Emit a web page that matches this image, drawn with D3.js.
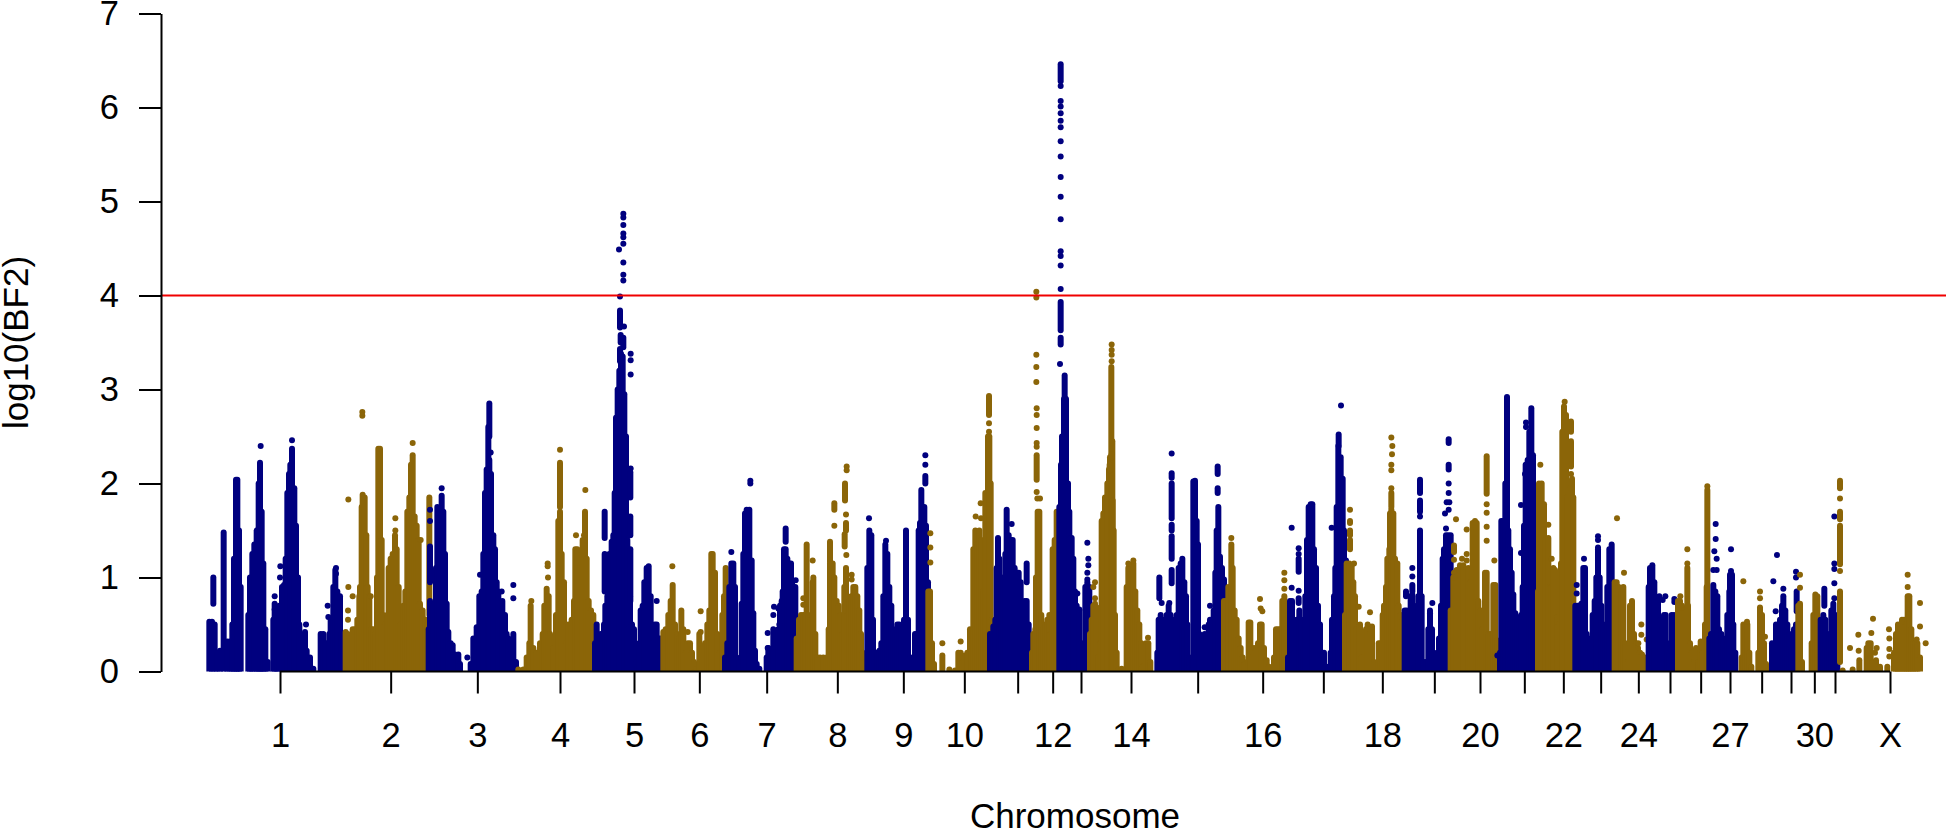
<!DOCTYPE html>
<html><head><meta charset="utf-8">
<script src="https://cdn.jsdelivr.net/npm/d3@7"></script>
<style>html,body{margin:0;background:#fff}svg{display:block}text{font-family:"Liberation Sans",Arial,sans-serif;fill:#000}</style>
</head><body><svg id="c" width="1946" height="833"></svg>
<script>
// Genome position unit: arbitrary cumulative position; each row is [position, top, optional bottom].
const at=(o,rows)=>rows.map(r=>[r[0]+o,...r.slice(1)]);
const genomeSpan=5838;
const yMax=7, threshold=4;
const tickPositions=[840,1172,1432,1680,1902,2098,2300,2512,2710,2893,3053,3158,3243,3393,3593,3788,3970,4147,4303,4440,4573,4690,4802,4915,5010,5102,5190,5285,5373,5443,5505,5670];
const tickLabels=["1","2","3","4","5","6","7","8","9","10","","12","","14","","16","","18","","20","","22","","24","","","27","","","30","","X"];
const chromosomeColors=["#00007f","#8b6508"];

const chr1=at(600,[[28,.53],[36,.53],[44,.5],[40,1,.72],[52,.2],[60,.22],[71,1.48],[82,.32],[90,.32],[97,.5],[102,1.2],[108,2.04],[112,2.04],[117,1.5],[122,.9],[145,.6],[150,1],[157,1.25],[163,1.35],[170,1.5],[176,2],[180,2.22],[185,1.7],[190,1.15],[196,.45],[203,.1],[220,.55],[224,.72],[232,.45],[238,.7],[246,.9],[252,.92],[257,1.2],[262,1.9],[267,2.1],[271,2.2],[276,2.37],[283,1.95],[288,1.55],[294,1],[298,.5],[305,.35],[315,.42],[320,.22],[330,.15],[340,.03],[362,.4],[370,.4],[376,.3],[383,.3],[388,.4],[392,.55],[400,.9],[406,1.08],[412,.85],[420,.8],[424,.4]]);
const chr1Dots=at(600,[[182,2.4],[224,.8],[224,.66],[241,1.12],[240,1],[276,2.46],[383,.7],[385,.58],[408,1.1],[408,1.04],[318,.5]]);
const chr2=at(600,[[437,.42],[443,.4],[450,.35],[458,.45],[465,.45],[472,.55],[478,.8],[480,.9],[485,1.75],[488,1.88],[494,1.85],[499,1.45],[503,.9],[508,.8],[514,.45],[520,.45],[526,.4],[531,1],[535,2.37],[540,2.37],[545,1.4],[549,.6],[555,.5],[562,.6],[566,1.1],[572,1.2],[578,1.25],[585,1.45],[590,1.3],[596,.9],[602,.5],[610,.7],[616,.85],[622,1.7],[628,1.85],[633,2.2],[638,2.3],[644,1.65],[650,1.55],[656,1.4],[660,.72],[668,.65],[676,.55],[682,.5],[688,1.85,.6]]);
const chr2Dots=at(600,[[487,2.76],[487,2.72],[445,1.83],[445,.9],[458,.8],[444,.65],[444,.55],[586,1.63],[586,1.5],[638,2.43],[662,1.4],[512,.8]]);
const chr3=at(600,[[686,.45],[690,.75],[690,1.33,.95],[700,.7],[708,1.1],[712,1.75],[718,1.72],[725,1.87],[730,1.7],[735,1.25],[740,.72],[745,.42],[752,.3],[758,.28],[765,.18],[775,.18],[780,.08],[812,.08],[820,.35],[830,.47],[838,.8],[845,.85],[850,1.25],[855,1.9],[860,2.15],[865,2.6],[868,2.85,2.5],[868,2.25],[873,2.1],[880,1.45],[885,1.3],[890,.95],[895,.85],[900,.6],[907,.75],[915,.6],[920,.4],[925,.35],[932,.2],[940,.4],[948,.1]]);
const chr3Dots=at(600,[[690,1.72],[690,1.6],[725,1.95],[802,.15],[840,1.03],[872,2.33],[940,.92],[940,.78],[905,.85]]);
const chr4=at(1470,[[85,.02],[100,.02],[110,.15],[118,.3],[122,.7],[130,.25],[140,.2],[150,.3],[158,.4],[163,.7],[170,.88],[176,.8],[180,.4],[190,.25],[198,.6],[205,1.6],[210,1.7],[210,2.22,1.75],[215,1.25],[222,.95],[228,.3],[235,.5],[245,.55],[252,.75],[256,1.3],[262,1.3],[270,1.1],[278,1.4],[285,1.7],[290,1.2],[296,.75],[303,.65],[310,.6],[316,.3]]);
const chr4Dots=at(1470,[[173,1.15],[173,1.12],[174,1],[210,2.36],[124,.75],[286,1.93],[258,1.45],[282,1.45]]);
const chr5=at(1470,[[315,.3],[320,.5],[332,.4],[342,.5],[346,.7],[344,1.7,1.42],[344,1.25,.85],[352,.8],[358,1.25],[365,1.38],[370,1.45],[374,1.9],[378,2.7],[383,3],[388,3.2],[393,3.38],[398,3.35],[403,2.95],[408,2.5],[412,1.4],[416,.45],[420,.8],[421,1.3,.75],[421,1.65,1.45],[421,2.12,1.85],[426,.5],[432,.45],[438,.1],[442,.05],[448,.3],[452,.65],[458,.7],[463,.95],[470,1.1],[476,1.12],[482,.8],[488,.3],[494,.5],[500,.5],[506,.35],[512,.35],[518,.15],[524,.1]]);
const chr5Upper=at(1680,[[180,3.84,3.66],[182,3.58,3.5],[190,3.55,3.45],[180,3.43,3.3]]);
const chr5Dots=at(1680,[[190,4.87],[190,4.83],[190,4.75],[190,4.66],[190,4.62],[190,4.55],[177,4.49],[190,4.35],[190,4.22],[190,4.16],[180,3.99],[192,3.67],[212,3.38],[212,3.31],[212,3.16],[212,2.16],[290,.75]]);
const chr6=at(1470,[[520,.42],[527,.45],[535,.6],[542,.75],[548,.92],[555,.5],[562,.4],[568,.35],[574,.65],[580,.45],[588,.2],[593,.3],[600,.3],[606,.2],[612,.1],[618,.02],[628,.4],[638,.25],[645,.3],[652,.5],[658,.65],[664,1.25],[668,1.25],[675,1.05],[682,.4],[690,.2],[697,.6],[702,.8],[707,1.1],[712,.8]]);
const chr6Dots=at(1470,[[547,1.12],[593,.42],[632,.64],[632,.42]]);
const chr7=[...at(1470,[[705,.15],[712,.3],[718,.9],[724,1.15],[730,1.15],[735,.9],[740,.15],[748,.1],[755,.72],[760,1.25],[765,1.68],[770,1.72],[778,1.72],[785,1.18],[790,.62],[795,.22],[800,.08],[808,.03],[830,.15],[835,.25],[843,.1],[850,.45],[858,.38],[865,.45]]),...at(2340,[[0,.7],[5,.75],[8,.85],[12,1.3],[17,1.3],[17,1.52,1.38],[22,1.2],[28,1.15],[33,1.15],[36,.95],[40,.9],[46,.9],[50,.5]])];
const chr7Dots=at(1470,[[724,1.27],[781,2.03],[781,2],[833,.41],[833,.25],[852,.69],[850,.6],[865,.67],[868,.5]]).concat(at(2340,[[47,.97]]));
const chr8=at(2340,[[50,.35],[57,.55],[63,.6],[70,.6],[76,.6],[80,1.35],[85,.6],[92,.55],[98,.95],[100,1],[106,.4],[112,.15],[120,.15],[130,.15],[140,.15],[146,.45],[150,1.15],[150,1.38,1.17],[152,1.15],[158,1.15],[163,1],[170,.75],[176,.7],[182,.6],[188,.4],[193,.9],[198,1.1],[203,.6],[208,.75],[214,.8],[220,.9],[226,.9],[232,.8],[238,.65],[243,.4],[248,.2],[254,.1],[163,1.79,1.72],[195,2,1.82],[198,1.58,1.5],[194,1.46,1.33]]);
const chr8Dots=at(2340,[[70,.78],[70,.71],[98,1.18],[163,1.55],[200,2.18],[200,2.14],[198,1.67],[199,1.24],[215,1.03],[215,.98]]);
const chr9=at(2340,[[262,1.1],[268,1.5],[274,1.45],[279,.55],[285,.1],[292,.2],[298,.22],[304,.3],[310,.8],[316,1.35],[322,1.25],[328,.9],[334,.7],[340,.45],[346,.4],[352,.5],[358,.5],[364,.45],[372,.55],[378,1.5],[384,.55],[392,.15],[398,.03],[405,.4],[410,.4],[416,1.5],[420,1.58],[426,1.55],[432,1.55],[438,1.55],[444,.95],[448,.35],[424,1.93,1.6],[433,1.75,1.55],[436,2.08,2]]);
const chr9Dots=at(2340,[[267,1.63],[318,1.39],[436,2.3],[436,2.2]]);
const chr10=at(2340,[[445,.85],[450,.85],[456,.3],[462,.08],[487,.17],[508,.02],[525,.01],[535,.2],[542,.2],[548,.1],[555,.17],[562,.2],[570,.45],[574,.22],[580,1.3],[586,1.5],[592,1.35],[598,1.5],[604,1.4],[610,.85],[616,1.9],[620,1.65],[624,2.5],[628,2.5],[632,2],[636,.55],[627,2.93,2.73]]);
const chr10Dots=at(2340,[[451,1.47],[451,1.32],[451,1.16],[487,.3],[542,.32],[602,1.79],[587,1.65],[603,1.63],[627,2.64],[627,2.55]]);
const chr11=at(2340,[[630,.4],[640,.48],[646,.55],[650,1.1],[654,1.42],[658,1.2],[664,.9],[670,1],[676,1.25],[680,1.72],[686,1.45],[692,1.4],[698,1.4],[704,1.1],[710,1.05],[716,1.05],[722,.95],[728,.55],[734,.75],[740,.75],[746,.5],[752,.3],[740,1.15,.95]]);
const chr11Dots=at(2340,[[695,1.57]]);
const chr12=at(2340,[[756,.2],[760,.4],[766,.45],[768,1],[773,1.7],[778,1.7],[784,.6],[790,.45],[796,.5],[802,.55],[808,.6],[812,.4],[818,1.3],[824,1.4],[830,1.7],[770,2.3,2.04]]);
const chr12Dots=at(2340,[[770,2.8],[770,2.73],[770,2.59],[770,2.43],[770,2.39],[770,1.91],[772,1.84],[780,1.84]]).concat(at(2880,[[229,4.04],[229,3.98],[229,3.37],[229,3.24],[229,3.08]]));
const chr13=[...at(2340,[[838,1.75],[843,2.2],[846,2.5],[852,2.9],[858,2.9],[864,2],[868,1.7]]),...at(3210,[[0,1.42],[5,1.42],[10,1.2],[15,.85],[20,.7],[28,.65],[35,.3],[40,.1],[46,.9],[52,.95],[58,.9],[62,.1]]),...at(2880,[[314,3.15,2.9],[302,6.46,6.28],[302,3.93,3.63],[302,3.55,3.48]])];
const chr13Dots=[...at(2880,[[302,6.23],[302,6.07],[302,6.01],[302,5.94],[302,5.86],[302,5.79],[302,5.64],[302,5.48],[302,5.26],[302,5.05],[302,4.81],[302,4.47],[302,4.42],[302,4.32],[302,4.07],[300,3.27]]),...at(3210,[[52,1.37],[55,1.2],[55,1.13],[52,1.05],[52,.98],[22,.83],[28,.66]])];
const chr14=at(3210,[[60,.4],[65,.55],[70,.7],[75,.72],[80,.68],[85,.15],[92,.3],[95,1.6],[100,1.68],[105,1.85],[112,2],[117,2.15],[120,2.28],[124,3.24],[127,2.45],[128,1.82],[131,1.5],[135,.6],[140,.2],[146,.02],[155,.03],[125,2.31,2.28],[119,2.2,2.14],[170,.9],[175,1.1],[183,1.1],[190,1.15],[196,.85],[202,.65],[208,.5],[214,.3],[218,.05],[228,.3],[235,.3],[241,.1]]);
const chr14Dots=at(3210,[[125,3.48],[125,3.42],[125,3.37],[125,3.3],[75,.95],[70,.9],[75,.78],[175,1.15],[190,1.18],[234,.36]]);
const chr15=at(3210,[[262,.2],[266,.55],[272,.6],[278,.55],[284,.5],[290,.6],[296,.7],[302,.6],[308,.5],[314,.55],[320,.6],[326,1.1],[332,1.15],[337,1.2],[343,.95],[348,.8],[352,.5],[358,.15],[362,.05],[305,2.11,2.06],[305,2,1.63],[305,1.56,1.5],[305,1.44,1.2],[305,1.08,.94],[268,1,.78],[367,.15],[370,2.02],[375,2.03],[380,1.6],[384,1.35],[388,.4],[392,.15],[398,.35],[404,.4],[410,.35],[416,.5],[420,.55],[426,.55],[431,.65],[436,1.05],[440,1.5],[445,1.75],[450,1.22],[456,1.1],[462,.98],[466,.7],[443,2.18,2.1],[443,1.95,1.9]]);
const chr15Dots=at(3210,[[305,2.32],[275,.73],[298,.73],[404,.47],[420,.7]]);
const chr16=at(3210,[[462,.75],[468,.75],[475,.9],[484,1.35],[488,1.1],[494,.65],[500,.55],[506,.35],[512,.25],[518,.15],[524,.08],[531,.1],[536,.52],[541,.52],[546,.15],[552,.25],[558,.22],[564,.3],[570,.5],[575,.5],[582,.25],[590,.12],[597,.05],[612,.15],[618,.45],[624,.45],[630,.45],[637,.75],[643,.8],[648,.15],[652,.05]]);
const chr16Dots=at(3210,[[484,1.42],[570,.77],[572,.67],[577,.64],[643,1.05],[643,.97],[643,.88]]);
const chr17=at(3210,[[654,.15],[660,.75],[666,.75],[672,.2],[680,.55],[688,.65],[694,.55],[700,.25],[706,.8],[711,1.4],[716,1.75],[722,1.78],[727,1.78],[732,1.3],[738,1.1],[744,.7],[750,.5],[756,.15],[762,.2],[768,.05],[775,.05],[782,.2],[786,.55],[792,.8],[796,1.1],[800,1.75],[805,2.4],[812,2.28],[818,2.05],[822,1.5],[828,1.18],[835,.8],[806,2.52,2.4],[686,1.2,1.06],[686,.78,.73]]);
const chr17Dots=at(3210,[[665,1.53],[665,.89],[686,1.31],[686,1.25],[686,.86],[785,1.53],[813,2.83]]);
const chr18=[...at(3210,[[825,.6],[830,1.15],[838,1.15],[845,1.12],[850,.95],[855,.8],[860,.45],[868,.48],[840,1.6,1.58],[840,1.5,1.45],[840,1.4,1.3]]),...at(4080,[[0,.5],[5,.15],[18,.45],[23,.5],[30,.4],[36,.48],[42,.1],[56,.3],[62,.3],[68,.6],[72,.7],[78,.9],[82,1.2],[88,1.3],[90,1.68],[94,1.72],[100,1.68],[105,1.2],[112,1.15],[116,.7],[122,.6],[128,.55],[94,1.9,1.75]])];
const chr18Dots=[...at(3210,[[840,1.72],[852,1.15],[866,.69]]),...at(4080,[[30,.63],[94,2.49],[97,2.4],[96,2.31],[94,2.2],[94,2.14],[94,1.95]])];
const chr19=at(4080,[[134,.65],[140,.65],[146,.55],[152,.8],[157,.82],[162,.7],[168,.4],[170,.5],[175,.8],[180,1.5],[185,.8],[190,.1],[197,.1],[205,.45],[210,.65],[216,.45],[222,.2],[230,.18],[237,.35],[243,.7],[248,1.2],[252,1.3],[258,1.45],[265,1.45],[272,1.45],[277,.9],[180,2.04,1.9],[180,1.82,1.7],[157,.92,.85],[138,.85,.8],[266,2.47,2.43],[266,2.2,2.15]]);
const chr19Dots=at(4080,[[157,1.1],[157,1.01],[210,.62],[217,.73],[266,2],[266,1.9],[260,1.8],[268,1.8],[255,1.68],[266,1.72],[258,1.52],[180,1.65]]);
const chr20=at(4080,[[272,.65],[280,1],[290,1.08],[300,1.13],[310,1.13],[318,1.08],[325,1.1],[332,.95],[338,1.58],[345,1.6],[350,1.58],[355,.75],[362,.65],[368,.45],[375,1.05],[380,1.05],[385,.4],[392,.4],[400,.92],[406,.92],[412,.33],[416,.05],[282,1.34,1.27],[380,2.29,1.89]]);
const chr20Dots=at(4080,[[288,1.62],[320,1.51],[282,1.19],[282,1.05],[282,1],[306,1.2],[320,1.25],[320,1.18],[380,1.78],[380,1.69],[380,1.54],[380,1.39],[403,1.18]]);
const chr21=at(4080,[[420,.2],[424,1.6],[430,1.6],[436,2],[441,2.92],[445,1.5],[450,1.3],[455,1.05],[460,.82],[466,.62],[472,.58],[478,.55],[484,.6],[488,.9],[492,1.55],[497,2.2],[503,2.25],[508,2.55],[514,2.8],[519,2.3],[524,1.3],[530,1.25]]);
const chr21Dots=at(4080,[[412,.17],[483,1.77],[483,1.26],[498,2.65],[498,2.6],[495,2.1]]);
const chr22=at(4080,[[534,.85],[537,2],[545,2],[552,1.78],[556,1.4],[565,1.42],[570,.9],[575,.9],[580,1.1],[585,1.08],[592,.58],[597,.5],[603,1.15],[607,2.55],[612,2.82],[618,2.73],[622,1.85],[630,1.95],[636,2.05],[640,1.85],[643,.1],[633,2.66,2.55],[633,2.45,2.18]]);
const chr22Dots=at(4080,[[541,2.2],[614,2.87],[565,1.56],[575,1.2],[633,2.1]]);
const chr23=at(4080,[[646,.7],[652,.7],[658,.7],[664,.72],[670,1.1],[675,1.1],[680,.4],[686,.2],[692,.35],[698,.6],[704,.75],[709,1],[714,1.3],[719,1],[724,.7],[730,.5],[736,.4],[742,.9],[748,1.3],[755,1.35],[760,.8],[766,.1]]);
const chr23Dots=at(4080,[[650,.92],[650,.83],[672,1.2],[714,1.44],[714,1.4],[714,1.32],[714,1.27],[714,1.18]]);
const chr24=at(4080,[[764,.95],[770,.95],[776,.9],[784,.85],[790,.9],[796,.3],[804,.1],[810,.7],[816,.75],[822,.4],[828,.3],[834,.25],[840,.2],[846,.18],[855,.15],[862,.15]]);
const chr24Dots=at(4080,[[771,1.63],[792,1.05],[844,.5],[844,.39],[860,.34],[835,.3]]);
const chr25=at(4950,[[-4,.9],[0,1.1],[7,1.13],[13,.95],[18,.78],[24,.75],[30,.55],[36,.45],[42,.6],[47,.6],[52,.3],[58,.2],[65,.6],[72,.6],[78,.5]]);
const chr25Dots=at(4950,[[28,.8],[46,.8],[73,.77],[73,.74],[38,.76]]);
const chr26=at(4950,[[84,.75],[90,.75],[96,.7],[102,.65],[108,.65],[112,1.1,.68],[114,.7],[120,.3],[126,.2],[132,.1],[138,.25],[145,.1],[152,.32],[158,.2],[165,.5],[170,.9],[172,1.93],[176,.4]]);
const chr26Dots=at(4950,[[91,.8],[112,1.3],[112,1.15],[172,1.97]]);
const chr27=at(4950,[[178,.35],[183,.4],[190,.92],[196,.85],[202,.8],[207,.45],[214,.4],[220,.35],[226,.25],[232,.6],[238,.85],[240,1.03],[246,1.03],[250,.5],[256,.2]]);
const chr27Dots=at(4950,[[197,1.57],[197,1.41],[193,1.28],[200,1.2],[190,1.08],[200,1.08],[243,1.3],[243,1.07]]);
const chr28=at(4950,[[275,.15],[280,.5],[286,.48],[292,.5],[298,.2],[304,.05],[325,.2],[330,.68],[336,.6],[342,.3],[348,.08]]);
const chr28Dots=at(4950,[[280,.96],[330,.85],[330,.78],[345,.37],[291,.53]]);
const chr29=at(4950,[[366,.3],[372,.25],[378,.5],[384,.4],[390,.55],[396,.7],[400,.8],[406,.65],[412,.5],[418,.4],[424,.25],[432,.45],[438,.5],[440,.85,.64]]);
const chr29Dots=at(4950,[[370,.96],[381,1.24],[377,.64],[400,.88],[438,1.06],[438,1]]);
const chr30=at(4950,[[445,.7],[450,.72],[456,.1],[485,.3],[490,.6],[496,.82],[502,.8],[507,.15]]);
const chr30Dots=at(4950,[[450,1.03],[450,.89]]);
const chr31=at(4950,[[512,.55],[520,.6],[526,.55],[532,.25],[538,.4],[544,.65],[550,.72],[556,.6],[562,.1],[523,.88,.7]]);
const chr31Dots=at(4950,[[553,1.65],[553,1.15],[553,1.09],[553,.94],[553,.78]]);
const chrX=at(4950,[[570,2.03,1.95],[570,1.7,1.62],[570,1.55,1.14],[570,.85,.1],[628,.12,.02],[650,.25],[655,.3],[662,.3],[668,.1],[678,.12],[690,.05],[712,.05],[732,.2],[738,.4],[744,.5],[750,.45],[756,.55],[762,.55],[768,.5],[773,.8],[778,.8],[784,.45],[790,.3],[796,.3],[802,.3],[810,.15]]);
const chrXDots=at(4950,[[570,1.84],[570,1.07],[578,.01],[600,.25],[608,.02],[625,.39],[626,.22],[664,.41],[669,.56],[680,.25],[675,.2],[717,.45],[718,.35],[718,.24],[718,.16],[773,1.03],[773,.9],[810,.73],[810,.48],[827,.3],[800,.34]]);

const drawOrder=[[chr1,chr1Dots],[chr2,chr2Dots],[chr3,chr3Dots],[chr4,chr4Dots],[chr5.concat(chr5Upper),chr5Dots],[chr6,chr6Dots],[chr7,chr7Dots],[chr8,chr8Dots],[chr9,chr9Dots],[chr10,chr10Dots],[chr11,chr11Dots],[chr12,chr12Dots],[chr13,chr13Dots],[chr14,chr14Dots],[chr15,chr15Dots],[chr16,chr16Dots],[chr17,chr17Dots],[chr18,chr18Dots],[chr19,chr19Dots],[chr20,chr20Dots],[chr21,chr21Dots],[chr22,chr22Dots],[chr23,chr23Dots],[chr24,chr24Dots],[chr25,chr25Dots],[chr26,chr26Dots],[chr27,chr27Dots],[chr28,chr28Dots],[chr29,chr29Dots],[chr30,chr30Dots],[chr31,chr31Dots],[chrX,chrXDots]];

const svg=d3.select("#c");
const x=d3.scaleLinear().domain([0,genomeSpan]).range([0,1946]);
const y=d3.scaleLinear().domain([0,yMax]).range([671.5,13.5]);
const R=3;
svg.append("clipPath").attr("id","plot").append("rect").attr("x",0).attr("width",1946).attr("y",0).attr("height",y(0));
const marks=svg.append("g").attr("clip-path","url(#plot)");
drawOrder.forEach(([stems,dots],i)=>{
  const color=chromosomeColors[i%2];
  const g=marks.append("g").attr("class","chromosome");
  g.selectAll("line").data(stems).join("line")
    .attr("x1",d=>x(d[0])).attr("x2",d=>x(d[0]))
    .attr("y1",d=>y(d[1])).attr("y2",d=>y(d[2]||0))
    .attr("stroke",color).attr("stroke-width",2*R).attr("stroke-linecap","round");
  g.selectAll("circle").data(dots).join("circle")
    .attr("cx",d=>x(d[0])).attr("cy",d=>y(d[1])).attr("r",R).attr("fill",color);
});
// threshold
svg.append("line").attr("x1",161).attr("x2",1946).attr("y1",y(threshold)).attr("y2",y(threshold)).attr("stroke","#f00000").attr("stroke-width",2);

const FS=34.5;
const ya=svg.append("g").attr("transform","translate(161,0)").call(d3.axisLeft(y).tickValues(d3.range(0,yMax+1)).tickSize(22).tickSizeOuter(0).tickPadding(20).tickFormat(d3.format("d")));
ya.selectAll("path,line").attr("stroke","#000").attr("stroke-width",2);
ya.selectAll("text").attr("font-size",FS).attr("font-family",null);
const xa=svg.append("g").attr("transform",`translate(0,${y(0)})`).call(d3.axisBottom(x).tickValues(tickPositions).tickSize(22).tickFormat((d,i)=>tickLabels[i]));
xa.select(".domain").remove();
xa.append("line").attr("x1",x(tickPositions[0])).attr("x2",x(tickPositions[tickPositions.length-1])).attr("stroke","#000").attr("stroke-width",2);
xa.selectAll(".tick line").attr("stroke","#000").attr("stroke-width",2);
xa.selectAll("text").attr("font-size",FS).attr("font-family",null).attr("y",75.5).attr("dy",0);
svg.append("text").attr("x",1075).attr("y",828).attr("text-anchor","middle").attr("font-size",35).text("Chromosome");
svg.append("text").attr("transform",`translate(28,${(y(0)+y(yMax))/2}) rotate(-90)`).attr("text-anchor","middle").attr("font-size",35).text("log10(BF2)");
</script></body></html>
